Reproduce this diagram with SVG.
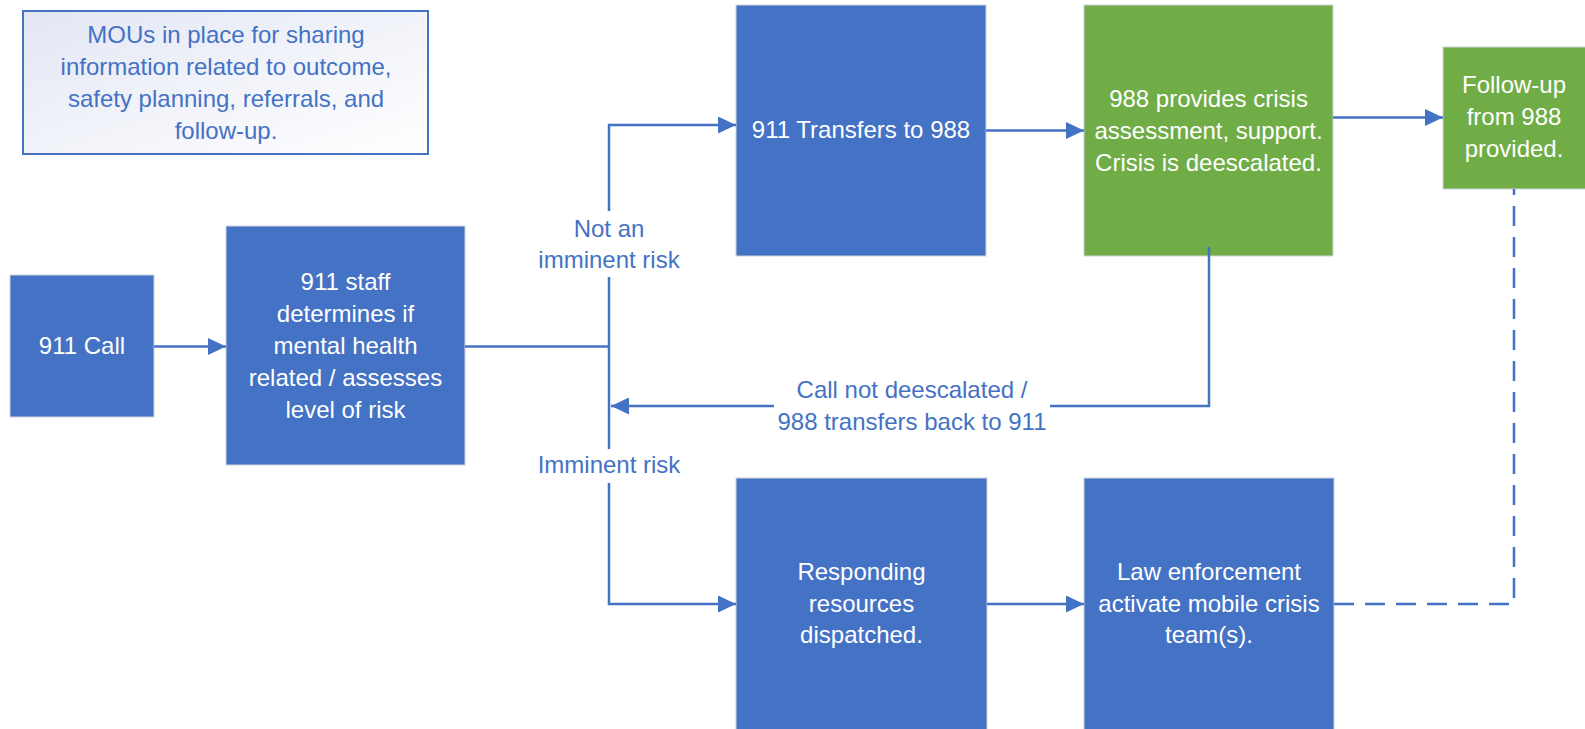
<svg xmlns="http://www.w3.org/2000/svg" width="1585" height="729" viewBox="0 0 1585 729">
<style>
.box{fill:#4472C4;stroke:#cfd3dc;stroke-width:1}
.gbox{fill:#70AD47;stroke:#cfd3dc;stroke-width:1}
.t{font-family:"Liberation Sans",Arial,sans-serif;font-size:24px;fill:#ffffff;text-anchor:middle}
.lbl{font-family:"Liberation Sans",Arial,sans-serif;font-size:24px;fill:#4472C4;text-anchor:middle}
.c{fill:none;stroke:#4472C4;stroke-width:2.5}
.d{fill:none;stroke:#4472C4;stroke-width:2.5;stroke-dasharray:20 11}
</style>
<defs>
<linearGradient id="mg" x1="0" y1="0" x2="1" y2="1">
<stop offset="0" stop-color="#e3e7f4"/>
<stop offset="1" stop-color="#ffffff"/>
</linearGradient>
<marker id="ah" markerUnits="userSpaceOnUse" markerWidth="18" markerHeight="17" refX="18" refY="8.5" orient="auto">
<path d="M0,0 L18,8.5 L0,17 z" fill="#4472C4"/>
</marker>
</defs>
<rect width="1585" height="729" fill="#ffffff"/>

<g id="mou">
<rect x="23" y="11" width="405" height="143" fill="url(#mg)" stroke="#4472C4" stroke-width="2"/>
<text class="lbl" x="226" y="43">MOUs in place for sharing</text>
<text class="lbl" x="226" y="75">information related to outcome,</text>
<text class="lbl" x="226" y="107">safety planning, referrals, and</text>
<text class="lbl" x="226" y="139">follow-up.</text>
</g>

<g id="call">
<rect class="box" x="10" y="275" width="144" height="142"/>
<text class="t" x="82" y="354">911 Call</text>
</g>

<g id="staff">
<rect class="box" x="226" y="226" width="239" height="239"/>
<text class="t" x="345.5" y="290">911 staff</text>
<text class="t" x="345.5" y="322">determines if</text>
<text class="t" x="345.5" y="354">mental health</text>
<text class="t" x="345.5" y="386">related / assesses</text>
<text class="t" x="345.5" y="418">level of risk</text>
</g>

<g id="transfer">
<rect class="box" x="736" y="5" width="250" height="251"/>
<text class="t" x="861" y="138">911 Transfers to 988</text>
</g>

<g id="assess">
<rect class="gbox" x="1084" y="5" width="249" height="251"/>
<text class="t" x="1208.5" y="107">988 provides crisis</text>
<text class="t" x="1208.5" y="139">assessment, support.</text>
<text class="t" x="1208.5" y="171">Crisis is deescalated.</text>
</g>

<g id="followup">
<rect class="gbox" x="1443" y="47" width="150" height="142"/>
<text class="t" x="1514" y="93">Follow-up</text>
<text class="t" x="1514" y="125">from 988</text>
<text class="t" x="1514" y="157">provided.</text>
</g>

<g id="dispatch">
<rect class="box" x="736" y="478" width="251" height="260"/>
<text class="t" x="861.5" y="580">Responding</text>
<text class="t" x="861.5" y="612">resources</text>
<text class="t" x="861.5" y="643">dispatched.</text>
</g>

<g id="mobile">
<rect class="box" x="1084" y="478" width="250" height="260"/>
<text class="t" x="1209" y="580">Law enforcement</text>
<text class="t" x="1209" y="612">activate mobile crisis</text>
<text class="t" x="1209" y="643">team(s).</text>
</g>

<g id="connectors">
<path class="c" d="M154 346.5 H226" marker-end="url(#ah)"/>
<path class="c" d="M465 346.5 H609"/>
<path class="c" d="M609 211 V125 H736" marker-end="url(#ah)"/>
<path class="c" d="M609 277 V449"/>
<path class="c" d="M609 483 V604 H736" marker-end="url(#ah)"/>
<path class="c" d="M986 130.5 H1084" marker-end="url(#ah)"/>
<path class="c" d="M1333 117.5 H1443" marker-end="url(#ah)"/>
<path class="c" d="M987 604 H1084" marker-end="url(#ah)"/>
<path class="c" d="M1209 247 V406 H1050"/>
<path class="c" d="M774 406 H611" marker-end="url(#ah)"/>
<path class="d" d="M1334 604 H1514 V189"/>
<text class="lbl" x="609" y="237">Not an</text>
<text class="lbl" x="609" y="268">imminent risk</text>
<text class="lbl" x="609" y="473">Imminent risk</text>
<text class="lbl" x="912" y="398">Call not deescalated /</text>
<text class="lbl" x="912" y="430">988 transfers back to 911</text>
</g>
</svg>
